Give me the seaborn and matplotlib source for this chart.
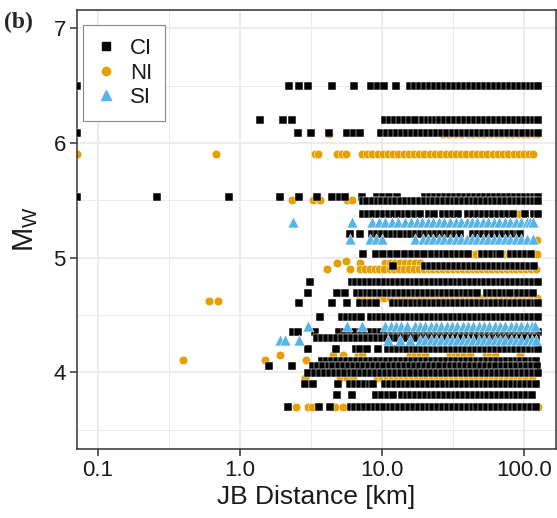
import matplotlib
matplotlib.use("Agg")
import matplotlib.pyplot as plt
import matplotlib.ticker as mticker
from matplotlib.lines import Line2D
import pandas as pd
import seaborn as sns

# ---- data: magnitude row -> list of JB distances [km] ----
ci_rows = {
    6.50: [0.071, 2.2, 2.6, 3.0, 4.45, 6.35, 8.4, 9.4, 10.3, 12.6, 15.7, 17.0, 18.5, 20.0, 21.8, 23.5, 25.6, 27.8, 30.0, 32.5, 35.4, 38.5, 41.7, 45.0, 49.0, 53.0, 57.6, 62.0, 67.8, 73.0, 79.7, 86.0, 93.7, 101.0, 110.0, 118.0, 125.0],
    6.20: [1.38, 2.01, 2.32, 10.5, 11.4, 12.4, 13.4, 14.5, 15.7, 17.0, 19.5, 21.0, 22.5, 24.0, 25.6, 27.8, 30.0, 32.5, 35.4, 38.5, 41.7, 45.0, 49.0, 53.0, 57.6, 62.0, 67.8, 73.0, 79.7, 86.0, 93.7, 101.0, 110.0, 118.0, 125.0],
    6.09: [0.071, 2.55, 3.16, 4.2, 5.7, 6.3, 7.0, 9.9, 10.8, 11.7, 12.7, 13.8, 15.0, 16.3, 17.7, 19.2, 20.8, 22.6, 24.5, 26.6, 28.9, 31.4, 34.1, 37.0, 40.2, 43.6, 47.3, 51.4, 55.8, 60.6, 65.8, 71.4, 77.5, 84.1, 91.3, 99.1, 107.6, 116.8, 125.0],
    5.53: [0.071, 0.26, 0.84, 1.9, 2.6, 3.5, 4.45, 5.1, 5.5, 7.2, 9.2, 10.2, 11.2, 12.8, 20.0, 21.8, 23.5, 25.6, 27.8, 30.0, 32.5, 35.4, 38.5, 41.7, 45.0, 49.0, 53.0, 57.6, 62.0, 67.8, 73.0, 79.7, 86.0, 93.7, 101.0, 110.0, 118.0, 125.0],
    5.49: [7.3, 7.9, 8.6, 9.3, 10.0, 10.8, 11.7, 12.6, 13.6, 14.7, 15.9, 17.2, 18.6, 20.0, 21.7, 23.4, 25.3, 27.3, 29.5, 32.0, 34.5, 37.3, 40.3, 43.5, 47.0, 50.8, 54.9, 59.3, 64.0, 69.2, 74.7, 80.7, 87.2, 94.2, 102.0, 110.0, 118.0, 125.0],
    5.38: [7.3, 8.0, 8.7, 9.5, 10.3, 11.2, 12.2, 13.2, 14.4, 15.6, 17.0, 18.4, 21.5, 23.4, 27.0, 29.3, 31.8, 34.5, 40.0, 43.5, 47.2, 51.3, 55.7, 60.5, 65.7, 71.3, 77.4, 84.0, 101.0, 118.0, 126.0],
    5.21: [5.95, 7.0, 8.5, 9.2, 10.0, 10.8, 11.7, 12.7, 13.7, 14.9, 16.1, 17.4, 18.9, 20.4, 22.1, 24.0, 26.0, 28.1, 30.4, 33.0, 35.7, 44.0, 47.7, 51.6, 55.9, 60.5, 65.5, 71.0, 76.9, 83.3, 90.2, 94.0],
    5.03: [7.35, 9.0, 10.2, 11.5, 12.8, 14.4, 16.2, 18.0, 19.8, 22.5, 24.6, 26.7, 28.7, 31.7, 34.4, 37.3, 40.5, 50.7, 55.0, 59.6, 64.5, 67.8, 81.6, 88.5, 96.0, 104.0, 112.0],
    4.93: [11.9, 20.0, 21.7, 23.5, 25.5, 27.6, 30.0, 32.5, 35.2, 38.2, 41.4, 44.9, 48.7, 52.8, 57.2, 62.0, 67.3, 72.9, 79.0, 85.7, 92.9, 100.7, 109.0, 118.0],
    4.79: [3.11, 6.1, 6.6, 7.1, 7.7, 8.3, 9.0, 9.7, 10.5, 11.3, 12.2, 13.2, 14.3, 15.4, 16.7, 18.0, 19.5, 21.0, 22.7, 24.6, 26.5, 28.7, 31.0, 33.5, 36.2, 39.1, 42.3, 45.7, 49.4, 53.4, 57.7, 62.3, 67.4, 72.8, 78.7, 85.0, 91.9, 99.3, 107.0, 116.0, 125.0],
    4.69: [2.99, 4.82, 5.49, 6.67, 7.2, 7.8, 8.4, 9.1, 9.8, 10.6, 11.5, 12.4, 13.4, 14.5, 15.7, 17.0, 18.3, 19.8, 21.4, 23.1, 25.0, 27.0, 29.2, 31.6, 34.1, 36.9, 39.9, 43.1, 46.6, 54.5, 58.9, 63.6, 68.8, 74.3, 80.3, 91.0, 98.0, 106.0, 115.0],
    4.60: [2.6, 4.45, 5.7, 7.0, 7.7, 8.4, 9.1, 12.0, 12.9, 13.9, 15.0, 16.2, 17.5, 18.9, 20.4, 22.0, 23.8, 25.7, 27.7, 29.9, 32.3, 34.9, 37.7, 40.7, 44.0, 47.5, 51.3, 55.4, 59.8, 64.6, 69.8, 75.4, 81.4, 87.9, 95.0, 102.6, 111.0, 119.6, 126.0],
    4.48: [3.66, 5.23, 5.65, 6.1, 6.6, 7.1, 8.3, 9.0, 9.7, 10.5, 11.3, 12.2, 13.2, 14.3, 15.4, 16.7, 18.0, 19.5, 21.0, 22.7, 24.6, 26.5, 28.7, 31.0, 33.5, 36.2, 39.1, 42.3, 45.7, 49.4, 53.4, 57.7, 62.3, 67.4, 72.8, 78.7, 85.0, 91.9, 99.3, 107.0, 116.0, 125.0],
    4.35: [2.37, 2.56, 3.37, 5.0, 5.5, 6.0, 6.5, 7.1, 7.7, 8.4, 9.1, 9.9, 10.8, 11.7, 12.7, 13.8, 15.0, 16.3, 17.7, 19.2, 20.8, 22.6, 24.5, 26.6, 28.9, 31.4, 34.1, 37.0, 40.2, 43.6, 47.3, 51.4, 55.8, 60.6, 65.8, 71.4, 77.5, 84.1, 91.3, 99.1, 107.6, 116.8, 125.0],
    4.30: [3.49, 3.78, 4.1, 4.45, 4.82, 5.23, 5.67, 6.15, 6.67, 7.23, 7.84, 8.5, 9.2, 10.0, 10.8, 11.7, 12.7, 13.8, 15.0, 16.2, 17.6, 19.1, 20.7, 22.4, 24.3, 26.4, 28.6, 31.0, 33.6, 36.4, 39.5, 42.8, 46.4, 50.3, 54.6, 59.2, 64.1, 69.5, 75.4, 81.7, 88.6, 96.0, 104.0, 113.0, 122.0],
    4.20: [2.99, 4.74, 6.56, 7.0, 7.84, 9.37, 11.0, 11.9, 12.9, 14.0, 15.1, 16.4, 17.7, 19.2, 20.8, 22.5, 24.4, 26.4, 28.6, 31.0, 33.5, 36.3, 39.3, 42.6, 46.1, 49.9, 54.1, 58.5, 63.4, 68.6, 74.3, 80.5, 87.1, 94.3, 102.0, 110.5, 119.7, 126.0],
    4.10: [3.78, 4.1, 4.45, 4.82, 5.23, 5.67, 6.15, 6.67, 7.23, 7.84, 8.5, 9.2, 10.0, 10.8, 11.7, 12.7, 13.8, 15.0, 16.2, 17.6, 19.1, 20.7, 22.4, 24.3, 26.4, 28.6, 31.0, 33.6, 36.4, 39.5, 42.8, 46.4, 50.3, 54.6, 59.2, 64.1, 69.5, 75.4, 81.7, 88.6, 96.0, 104.0, 113.0, 122.0],
    4.05: [1.6, 2.32, 3.27, 3.55, 3.85, 4.2, 4.55, 4.95, 5.4, 5.85, 6.35, 6.9, 7.5, 8.1, 8.8, 9.6, 10.4, 11.3, 12.3, 13.3, 14.5, 15.7, 17.1, 18.5, 20.1, 21.9, 23.8, 25.8, 28.0, 30.4, 33.0, 35.9, 39.0, 42.3, 46.0, 49.9, 54.2, 58.9, 64.0, 69.5, 75.5, 82.0, 89.0, 96.7, 105.0, 114.0, 124.0],
    3.99: [2.99, 3.37, 3.66, 3.97, 4.31, 4.68, 5.08, 5.52, 6.0, 6.5, 7.06, 7.67, 8.33, 9.05, 9.82, 10.7, 11.6, 12.6, 13.7, 14.8, 16.1, 17.5, 19.0, 20.6, 22.4, 24.3, 26.4, 28.7, 31.2, 33.8, 36.7, 39.9, 43.3, 47.0, 51.1, 55.5, 60.2, 65.4, 71.0, 77.1, 83.7, 90.9, 98.8, 107.0, 116.0, 126.0],
    3.90: [2.87, 3.27, 4.9, 5.95, 6.45, 7.0, 7.6, 8.2, 8.6, 10.5, 11.4, 12.3, 13.3, 14.4, 15.6, 16.9, 18.3, 19.8, 21.4, 23.2, 25.1, 27.2, 29.4, 31.8, 34.4, 37.3, 40.3, 43.6, 47.2, 51.1, 55.3, 59.8, 64.7, 70.0, 75.8, 82.0, 88.7, 96.0, 104.0, 112.5, 121.7],
    3.80: [4.82, 6.1, 9.1, 10.0, 11.0, 12.0, 13.8, 14.9, 16.1, 17.4, 18.8, 20.3, 22.0, 23.8, 25.7, 27.8, 30.0, 32.5, 35.1, 38.0, 41.1, 44.4, 48.0, 51.9, 56.2, 60.8, 65.7, 71.1, 76.9, 83.1, 89.9, 97.2, 105.0, 113.6],
    3.70: [2.18, 3.6, 4.3, 6.0, 6.5, 7.0, 7.6, 8.2, 8.9, 9.6, 10.4, 11.3, 12.2, 13.2, 14.3, 15.5, 16.8, 18.2, 19.7, 21.3, 23.0, 24.9, 27.0, 29.2, 31.6, 34.2, 37.0, 40.1, 43.4, 47.0, 50.9, 55.1, 59.6, 64.5, 69.8, 75.6, 81.8, 88.5, 95.8, 103.7, 112.3, 121.5],
}

ni_rows = {
    6.08: [4.2, 26.9, 29.5, 32.5, 36.0, 40.0, 44.0, 48.0, 52.5, 57.5, 63.0, 69.0, 75.5, 82.5, 90.0, 98.5, 107.5, 117.0, 124.0],
    5.90: [0.071, 0.68, 3.37, 3.56, 4.82, 5.25, 5.6, 7.2, 7.8, 8.5, 9.3, 10.1, 11.0, 12.0, 13.0, 14.2, 15.4, 16.8, 18.3, 19.9, 21.7, 23.6, 25.7, 28.0, 30.5, 33.2, 36.1, 39.3, 42.8, 46.6, 50.7, 55.2, 60.1, 65.4, 71.2, 77.5, 84.4, 91.9, 100.0, 108.9, 115.0],
    5.50: [2.32, 3.27, 3.66, 5.67, 6.15, 12.3, 17.7],
    5.38: [92.0],
    5.15: [124.0],
    5.03: [28.7, 31.0, 33.5, 36.2, 39.1, 42.3, 45.7, 49.4, 53.4, 57.7, 62.3, 67.4, 72.8, 78.7, 85.0, 91.9, 99.3, 107.0, 116.0, 123.0],
    4.97: [5.58],
    4.95: [4.82, 7.0, 10.5, 11.4, 12.4, 13.4, 14.5, 15.7, 17.0, 18.5],
    4.90: [4.1, 5.95, 7.0, 7.6, 8.2, 8.9, 9.6, 10.4, 11.3, 12.2, 13.2, 14.3, 15.5, 16.8, 18.2, 19.7, 21.3, 23.0, 24.9, 27.0, 29.2, 31.6, 34.2, 37.0, 40.1, 43.4, 47.0, 50.9, 55.1, 59.6, 64.5, 69.8, 75.6, 81.8, 88.5, 95.8, 103.7, 112.3, 121.5],
    4.65: [7.0, 7.6, 8.2, 8.9, 9.6, 10.4, 11.3, 12.2, 13.2, 14.3, 15.5, 16.8, 18.2, 19.7, 21.3, 23.0, 24.9, 27.0, 29.2, 31.6, 34.2, 37.0, 40.1, 43.4, 47.0, 50.9, 55.1, 59.6, 64.5, 69.8, 75.6, 81.8, 88.5, 95.8, 103.7, 112.3, 123.0],
    4.62: [0.605, 0.70],
    4.15: [1.91, 4.52, 5.3, 6.77, 7.2, 15.7, 17.0, 18.5, 20.0, 30.0, 32.5, 35.0, 38.0, 41.7, 54.0, 58.0, 62.0, 93.7],
    4.11: [0.397, 1.5, 2.92],
    4.05: [8.5, 9.5, 24.0, 28.0, 33.0, 38.0, 60.0, 66.0, 95.0, 105.0],
    3.95: [2.87, 5.06, 5.67, 6.2, 9.2, 10.0, 10.8, 11.7, 12.7, 13.8, 15.0, 16.2, 17.6, 19.1, 20.7, 22.4, 24.3, 26.4, 28.6, 31.0, 33.6, 36.4, 39.5, 42.8, 46.4, 50.3, 54.6, 59.2, 64.1, 69.5, 75.4, 81.7, 88.6, 96.0, 104.0, 113.0],
    3.70: [2.48, 3.0, 3.21, 4.67, 5.3, 126.0],
}

si_rows = {
    5.31: [2.36, 6.15, 8.5, 9.5, 10.5, 11.8, 13.0, 14.5, 16.0, 17.5, 19.0, 21.0, 23.0, 25.0, 27.5, 30.0, 33.0, 36.0, 39.5, 43.0, 47.0, 51.5, 56.0, 61.0, 67.0, 73.0, 80.0, 88.0, 96.0, 105.0, 110.0, 115.0],
    5.16: [5.95, 8.2, 9.0, 10.0, 17.0, 19.4, 21.0, 23.0, 25.0, 27.5, 30.0, 33.0, 36.0, 39.5, 43.0, 47.0, 51.5, 56.0, 61.0, 67.0, 73.0, 80.0, 88.0, 96.0, 105.0, 115.0],
    4.40: [2.99, 5.67, 7.2, 10.5, 11.5, 12.5, 13.5, 15.0, 17.0, 18.5, 20.0, 22.0, 24.0, 26.0, 28.5, 31.0, 34.0, 37.0, 40.0, 44.0, 48.0, 52.0, 57.0, 62.0, 68.0, 74.0, 81.0, 88.0, 96.0, 105.0, 113.0, 119.0],
    4.28: [1.91, 2.07, 2.6, 11.0, 13.4, 15.7, 18.5, 20.0, 22.0, 24.0, 26.0, 28.5, 31.0, 34.0, 37.0, 40.0, 44.0, 48.0, 52.0, 57.0, 62.0, 68.0, 74.0, 81.0, 88.0, 96.0, 105.0, 113.0, 122.0],
}

classes = ["CI", "NI", "SI"]
colors = {"CI": "#000000", "NI": "#E69F00", "SI": "#56B4E9"}
markers = {"CI": "s", "NI": "o", "SI": "^"}
sizes = {"CI": 36, "NI": 38, "SI": 62}

x_ticks = [0.1, 1.0, 10.0, 100.0]
x_tick_labels = ["0.1", "1.0", "10.0", "100.0"]
y_ticks = [4, 5, 6, 7]


def to_frame(rows, cls):
    recs = [(d, m, cls) for m, ds in rows.items() for d in ds]
    return pd.DataFrame(recs, columns=["dist", "mw", "cls"])


frames = {"CI": to_frame(ci_rows, "CI"),
          "NI": to_frame(ni_rows, "NI"),
          "SI": to_frame(si_rows, "SI")}

sns.set_theme(style="whitegrid")
plt.rcParams["font.family"] = ["Liberation Sans", "DejaVu Sans"]
plt.rcParams["mathtext.fontset"] = "custom"
plt.rcParams["mathtext.rm"] = "Liberation Sans"
plt.rcParams["mathtext.it"] = "Liberation Sans"

fig = plt.figure(figsize=(5.57, 5.18), dpi=100)
ax = fig.add_axes([77 / 557, 1 - 449 / 518, 479 / 557, 439 / 518])
ax.set_facecolor("white")

for z, cls in zip([2, 3, 4], ["NI", "CI", "SI"]):
    sns.scatterplot(data=frames[cls], x="dist", y="mw", ax=ax,
                    marker=markers[cls], s=sizes[cls], color=colors[cls],
                    edgecolor="white", linewidth=0.35, legend=False, zorder=z)

ax.set_xscale("log")
ax.set_xlim(0.0711, 168)
ax.set_ylim(3.33, 7.16)

ax.xaxis.set_major_locator(mticker.FixedLocator(x_ticks))
ax.xaxis.set_major_formatter(mticker.FixedFormatter(x_tick_labels))
ax.xaxis.set_minor_locator(mticker.FixedLocator([10 ** -0.5, 10 ** 0.5, 10 ** 1.5]))
ax.xaxis.set_minor_formatter(mticker.NullFormatter())
ax.yaxis.set_major_locator(mticker.FixedLocator(y_ticks))
ax.yaxis.set_minor_locator(mticker.FixedLocator([3.5, 4.5, 5.5, 6.5]))

ax.set_axisbelow(True)
ax.grid(which="major", color="#EBEBEB", linewidth=1.3)
ax.grid(which="minor", color="#EBEBEB", linewidth=0.7)

ax.tick_params(which="major", length=5, width=1.1, color="#333333",
               labelsize=16, labelcolor="#1a1a1a", pad=3, direction="out",
               bottom=True, left=True)
ax.tick_params(which="minor", length=0)
for sp in ax.spines.values():
    sp.set_visible(True)
    sp.set_color("#333333")
    sp.set_linewidth(1.1)

ax.set_xlabel("JB Distance [km]", fontsize=19, color="#1a1a1a", labelpad=3)
ax.set_ylabel(r"$\mathregular{M_W}$", fontsize=21, color="#1a1a1a", labelpad=10)

handles = [Line2D([0], [0], linestyle="none", marker=markers[c],
                  markersize={"CI": 5.5, "NI": 6, "SI": 7}[c],
                  markerfacecolor=colors[c], markeredgecolor=colors[c])
           for c in classes]
leg = ax.legend(handles, classes, loc="upper left",
                bbox_to_anchor=(0.0125, 0.966), borderaxespad=0,
                fontsize=16, frameon=True, fancybox=False, framealpha=1,
                edgecolor="#888888", labelspacing=0.15, handlelength=0.9,
                handletextpad=0.6, borderpad=0.6)
leg.get_frame().set_linewidth(0.8)
for t in leg.get_texts():
    t.set_color("#1a1a1a")

fig.text(0.008, 0.978, "(b)", fontsize=17, fontweight="bold",
         family=["Liberation Serif", "DejaVu Serif"], va="top", ha="left")

fig.savefig("out.png", dpi=100)
